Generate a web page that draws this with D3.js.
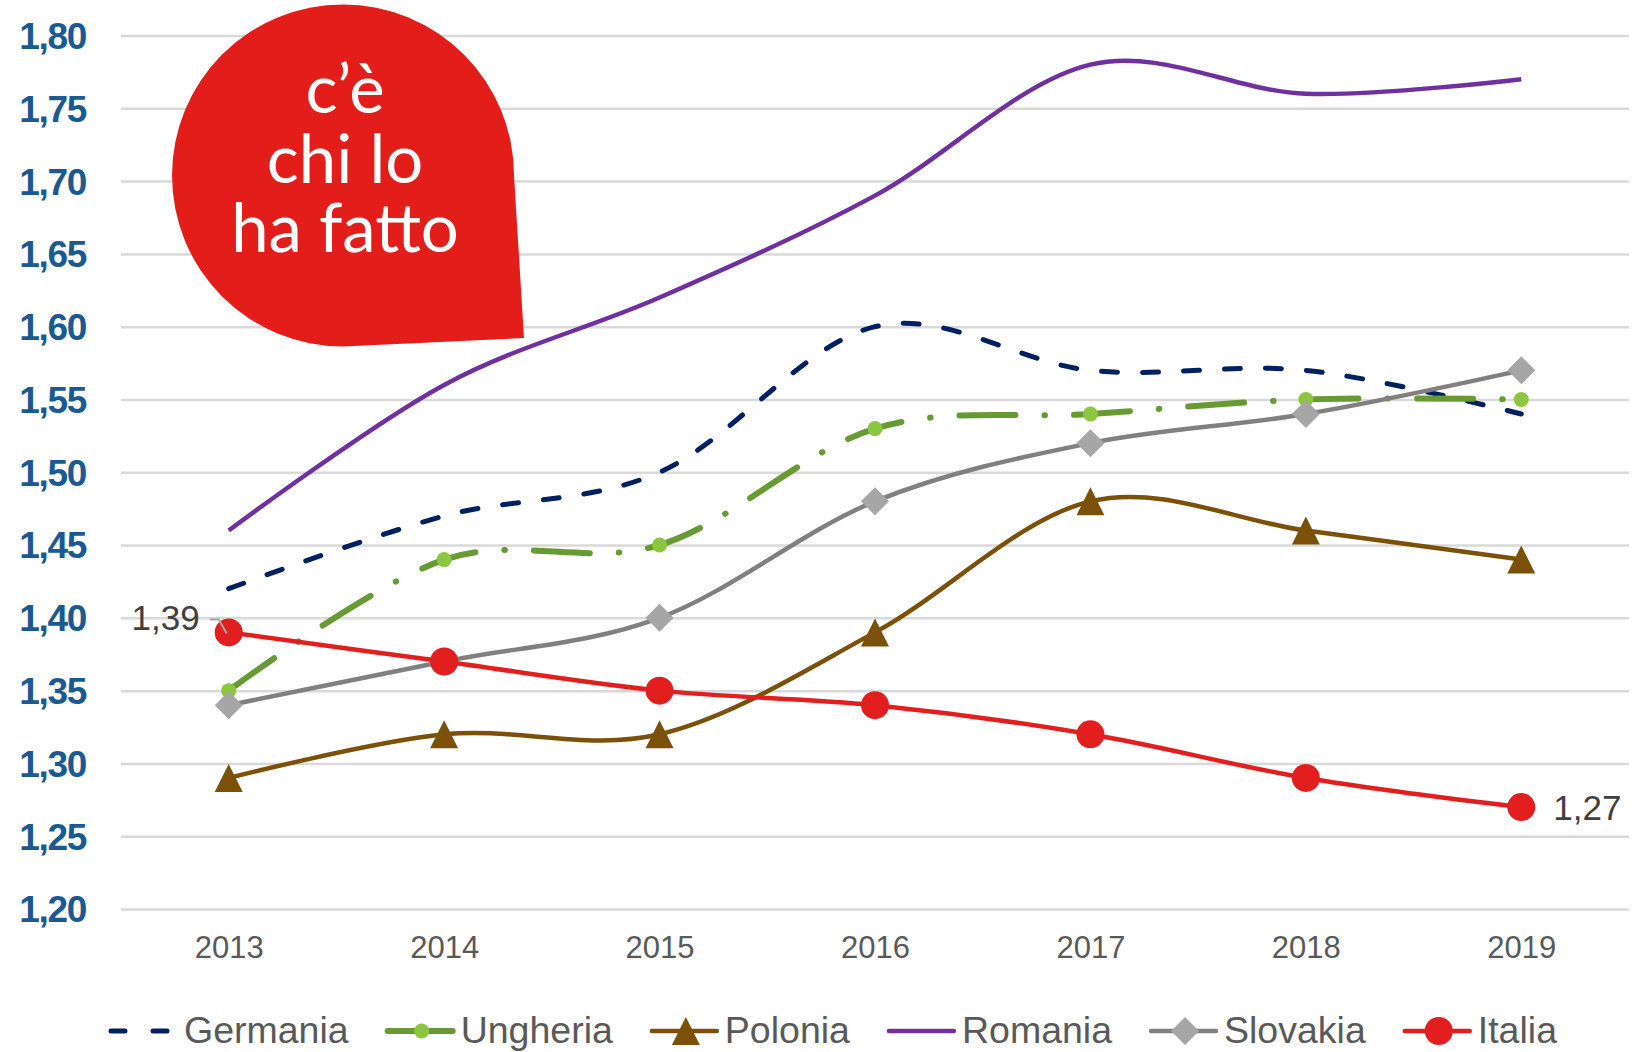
<!DOCTYPE html>
<html>
<head>
<meta charset="utf-8">
<script src="https://cdn.jsdelivr.net/npm/d3@7"></script>
<style>
  body { margin: 0; background: #fff; }
  svg { display: block; }
</style>
</head>
<body>
<script>
    // data
    var years = ["2013", "2014", "2015", "2016", "2017", "2018", "2019"];
    var germania = [1.42, 1.47, 1.50, 1.60, 1.57, 1.57, 1.54];
    var ungheria = [1.35, 1.44, 1.45, 1.53, 1.54, 1.55, 1.55];
    var polonia  = [1.29, 1.32, 1.32, 1.39, 1.48, 1.46, 1.44];
    var romania  = [1.46, 1.56, 1.62, 1.69, 1.78, 1.76, 1.77];
    var slovakia = [1.34, 1.37, 1.40, 1.48, 1.52, 1.54, 1.57];
    var italia   = [1.39, 1.37, 1.35, 1.34, 1.32, 1.29, 1.27];
    var yTicks = [1.20, 1.25, 1.30, 1.35, 1.40, 1.45, 1.50, 1.55, 1.60, 1.65, 1.70, 1.75, 1.80];
    var seriesNames = ["Germania", "Ungheria", "Polonia", "Romania", "Slovakia", "Italia"];
    var seriesValues = [germania, ungheria, polonia, romania, slovakia, italia];
    var bubbleLines = ["c’è", "chi lo", "ha fatto"];

    var width = 1639, height = 1052;
    var plotL = 121, plotR = 1629, plotT = 35.5, plotB = 909;

    var styles = {
        Germania: {line: "#002060", w: 5, dash: "16 25", marker: null},
        Ungheria: {line: "#679a33", w: 6, dash: "56 29 0.5 29", marker: "dot", fill: "#8cc63f"},
        Polonia:  {line: "#7b5008", w: 4.5, dash: null, marker: "triangle", fill: "#7b5008"},
        Romania:  {line: "#7030a0", w: 4.5, dash: null, marker: null},
        Slovakia: {line: "#808080", w: 4.5, dash: null, marker: "diamond", fill: "#a6a6a6"},
        Italia:   {line: "#e31e1e", w: 4.5, dash: null, marker: "circle", fill: "#e31e1e"}
    };

    var svg = d3.select("body").append("svg")
        .attr("width", width).attr("height", height);

    var x = d3.scalePoint().domain(years).range([plotL, plotR]).padding(0.5);
    var y = d3.scaleLinear().domain([1.2, 1.8]).range([plotB, plotT]);

    var comma = function(d){ return d.toFixed(2).replace(".", ","); };

    /* gridlines */
    svg.append("g").attr("transform", "translate(" + plotL + ",0)")
        .call(d3.axisLeft(y).tickValues(yTicks).tickSize(-(plotR - plotL)).tickFormat(""))
        .call(function(g){
            g.select(".domain").remove();
            g.selectAll("line").attr("stroke", "#d9d9d9").attr("stroke-width", 2.5);
        });

    /* y axis labels */
    svg.append("g").attr("transform", "translate(" + plotL + ",0)")
        .call(d3.axisLeft(y).tickValues(yTicks).tickSize(0).tickPadding(35).tickFormat(comma))
        .call(function(g){
            g.select(".domain").remove();
            g.selectAll("text")
                .attr("dy", "0.35em")
                .style("font-family", "'Liberation Sans', Arial, sans-serif")
                .style("font-size", "37px")
                .style("font-weight", "bold")
                .style("letter-spacing", "-1.3px")
                .attr("fill", "#1b5a91");
        });

    /* x axis labels */
    svg.append("g").attr("transform", "translate(0," + plotB + ")")
        .call(d3.axisBottom(x).tickSize(0).tickPadding(27))
        .call(function(g){
            g.select(".domain").remove();
            g.selectAll("text")
                .style("font-family", "'Liberation Sans', Arial, sans-serif")
                .style("font-size", "31px")
                .attr("fill", "#595959");
        });

    var line = d3.line()
        .x(function(d, i){ return x(years[i]); })
        .y(function(d){ return y(d); })
        .curve(d3.curveCardinal.tension(0));

    function markerPath(type, s){
        if (type === "triangle") return "M0," + (-s) + "L" + s + "," + s + "L" + (-s) + "," + s + "Z";
        if (type === "diamond") return "M0," + (-s) + "L" + s + ",0L0," + s + "L" + (-s) + ",0Z";
        return null;
    }

    function drawMarker(g, type, fill, cx, cy){
        if (type === "circle" || type === "dot") {
            g.append("circle").attr("cx", cx).attr("cy", cy)
                .attr("r", type === "circle" ? 14 : 7.5).attr("fill", fill);
        } else if (type) {
            g.append("path").attr("d", markerPath(type, 14))
                .attr("transform", "translate(" + cx + "," + cy + ")")
                .attr("fill", fill);
        }
    }

    seriesNames.forEach(function(name, k){
        var st = styles[name];
        var g = svg.append("g").attr("class", "series");
        g.append("path")
            .datum(seriesValues[k])
            .attr("d", line)
            .attr("fill", "none")
            .attr("stroke", st.line)
            .attr("stroke-width", st.w)
            .attr("stroke-linecap", st.dash ? "round" : "butt")
            .attr("stroke-dasharray", st.dash);
        seriesValues[k].forEach(function(v, i){
            drawMarker(g, st.marker, st.fill, x(years[i]), y(v));
        });
    });

    /* data labels on Italia */
    var labelFont = "'Liberation Sans', Arial, sans-serif";
    var first = italia[0], last = italia[italia.length - 1];
    svg.append("path")
        .attr("d", "M" + (x(years[0]) - 19) + "," + (y(first) - 13) + "h9l" + 8 + "," + 14)
        .attr("fill", "none").attr("stroke", "#a6a6a6").attr("stroke-width", 2);
    svg.append("text")
        .attr("x", x(years[0]) - 29).attr("y", y(first) - 2)
        .attr("text-anchor", "end")
        .style("font-family", labelFont).style("font-size", "35px")
        .attr("fill", "#404040")
        .text(comma(first));
    svg.append("text")
        .attr("x", x(years[6]) + 32).attr("y", y(last) + 13)
        .style("font-family", labelFont).style("font-size", "35px")
        .attr("fill", "#404040")
        .text(comma(last));

    /* red bubble */
    var bub = svg.append("g");
    bub.append("path")
        .attr("d", "M343,4.5A171,171 0 0 1 514,175.5L524,338L343,346.5A171,171 0 0 1 172,175.5A171,171 0 0 1 343,4.5Z")
        .attr("fill", "#e31e1a");
    bub.selectAll("text.b").data(bubbleLines).enter().append("text")
        .attr("x", 345)
        .attr("y", function(d, i){ return 113 + i * 69.5; })
        .attr("text-anchor", "middle")
        .style("font-family", "Lato, 'Open Sans', sans-serif")
        .style("font-size", "67px")
        .attr("fill", "#fff")
        .text(function(d){ return d; });

    /* legend */
    var legend = svg.append("g").attr("transform", "translate(0,1031)");
    var lx = 108;
    seriesNames.forEach(function(name){
        var st = styles[name];
        var item = legend.append("g");
        var seg = item.append("line").attr("x1", lx + 3).attr("x2", lx + 68)
            .attr("stroke", st.line).attr("stroke-width", st.w)
            .attr("stroke-linecap", "round");
        if (name === "Germania") seg.attr("stroke-dasharray", "14 28");
        drawMarker(item, st.marker, st.fill, lx + 37, 0);
        var t = item.append("text")
            .attr("x", lx + 76).attr("y", 12)
            .style("font-family", labelFont).style("font-size", "37.5px")
            .attr("fill", "#595959")
            .text(name);
        lx += 76 + t.node().getComputedTextLength() + 36;
    });
</script>
</body>
</html>
